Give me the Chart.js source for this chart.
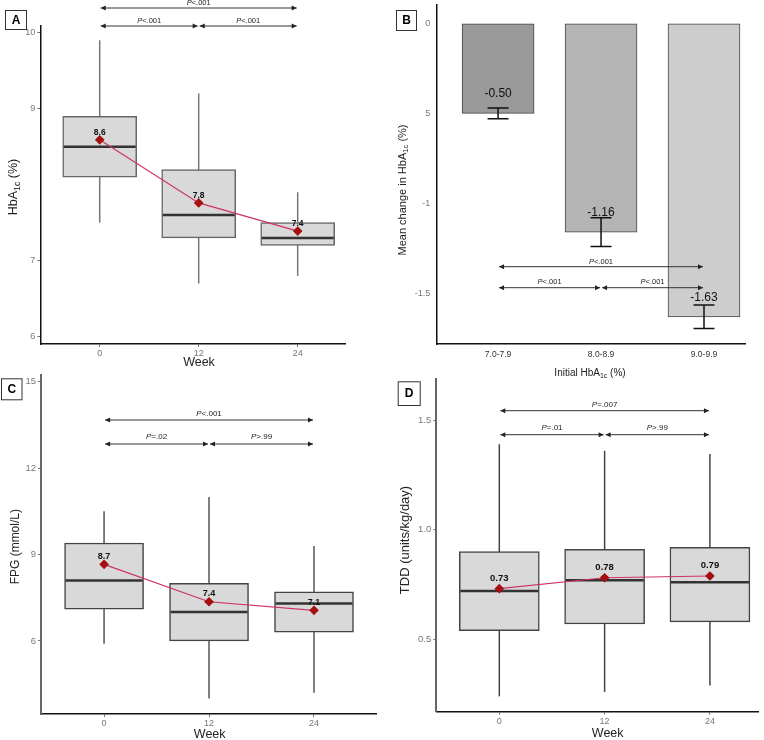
<!DOCTYPE html>
<html>
<head>
<meta charset="utf-8">
<script src="https://cdn.jsdelivr.net/npm/chart.js@4.4.1/dist/chart.umd.min.js"></script>
<style>
  body { margin: 0; background: #fff; width: 764px; height: 740px; position: relative; overflow: hidden; }
  canvas { position: absolute; }
</style>
</head>
<body>
<canvas id="chartA" width="382" height="370" style="left:0;top:0"></canvas>
<canvas id="chartB" width="382" height="390" style="left:382px;top:0"></canvas>
<canvas id="chartC" width="382" height="370" style="left:0;top:370px"></canvas>
<canvas id="chartD" width="382" height="370" style="left:382px;top:370px"></canvas>
<script>
// shared x values (weeks)
var weeks = [0, 12, 24];

// A: HbA1c (%) box plots
var hbaMin = [7.5, 6.7, 6.8];
var hbaQ1 = [8.1, 7.3, 7.2];
var hbaMedian = [8.5, 7.6, 7.3];
var hbaQ3 = [8.9, 8.2, 7.5];
var hbaMax = [9.9, 9.2, 7.9];
var hbaMean = [8.59, 7.76, 7.39];
var hbaTicks = [6, 7, 9, 10];

// B: mean change in HbA1c by initial HbA1c group
var hbaGroups = ['7.0-7.9', '8.0-8.9', '9.0-9.9'];
var hbaChange = [-0.50, -1.16, -1.63];
var hbaChangeErr = [0.03, 0.08, 0.065];
var changeTicks = [0, -0.5, -1, -1.5];
var changeTickText = ['0', '5', '-1', '-1.5'];

// C: FPG (mmol/L)
var fpgMin = [5.9, 4.0, 4.2];
var fpgQ1 = [7.1, 6.0, 6.3];
var fpgMedian = [8.1, 7.0, 7.3];
var fpgQ3 = [9.4, 8.0, 7.7];
var fpgMax = [10.5, 11.0, 9.3];
var fpgMean = [8.66, 7.36, 7.06];
var fpgTicks = [6, 9, 12, 15];

// D: TDD (units/kg/day)
var tddMin = [0.24, 0.26, 0.29];
var tddQ1 = [0.54, 0.57, 0.58];
var tddMedian = [0.72, 0.77, 0.76];
var tddQ3 = [0.90, 0.91, 0.92];
var tddMax = [1.39, 1.36, 1.345];
var tddMean = [0.731, 0.781, 0.789];
var tddTicks = [0.5, 1.0, 1.5];

var FONT = '"Liberation Sans", Arial, sans-serif';

function pText(ctx, rest, cx, cy, size) {
  ctx.font = 'italic ' + size + 'px ' + FONT;
  var w1 = ctx.measureText('P').width;
  ctx.font = size + 'px ' + FONT;
  var w2 = ctx.measureText(rest).width;
  var x0 = cx - (w1 + w2) / 2;
  ctx.textAlign = 'left';
  ctx.textBaseline = 'middle';
  ctx.font = 'italic ' + size + 'px ' + FONT;
  ctx.fillText('P', x0, cy);
  ctx.font = size + 'px ' + FONT;
  ctx.fillText(rest, x0 + w1, cy);
}

function arrowHead(ctx, x, y, dir) {
  ctx.beginPath();
  ctx.moveTo(x, y);
  ctx.lineTo(x - dir * 5, y - 2.5);
  ctx.lineTo(x - dir * 5, y + 2.5);
  ctx.closePath();
  ctx.fill();
}

function drawBrackets(chart, list, size) {
  var ctx = chart.ctx, xs = chart.scales.x;
  ctx.save();
  ctx.strokeStyle = '#333';
  ctx.fillStyle = '#222';
  ctx.lineWidth = 1;
  list.forEach(function(b) {
    var x1 = xs.getPixelForValue(b.from) + 1;
    var x2 = xs.getPixelForValue(b.to) - 1;
    ctx.beginPath();
    ctx.moveTo(x1, b.y);
    ctx.lineTo(x2, b.y);
    ctx.stroke();
    arrowHead(ctx, x1, b.y, -1);
    arrowHead(ctx, x2, b.y, 1);
    pText(ctx, b.text, (x1 + x2) / 2, b.ty, size);
  });
  ctx.restore();
}

function richText(ctx, parts, cx, cy, size, rotate, color) {
  ctx.save();
  ctx.translate(cx, cy);
  if (rotate) ctx.rotate(-Math.PI / 2);
  ctx.fillStyle = color;
  ctx.textBaseline = 'middle';
  ctx.textAlign = 'left';
  var widths = [], total = 0;
  parts.forEach(function(p) {
    ctx.font = (p.sub ? size * 0.7 : size) + 'px ' + FONT;
    var w = ctx.measureText(p.t).width;
    widths.push(w);
    total += w;
  });
  var x = -total / 2;
  parts.forEach(function(p, i) {
    ctx.font = (p.sub ? size * 0.7 : size) + 'px ' + FONT;
    ctx.fillText(p.t, x, p.sub ? size * 0.3 : 0);
    x += widths[i];
  });
  ctx.restore();
}

function panelLetter(ctx, letter, x, y, w, h) {
  ctx.save();
  ctx.fillStyle = '#fff';
  ctx.fillRect(x, y, w, h);
  ctx.strokeStyle = '#333';
  ctx.lineWidth = 1;
  ctx.strokeRect(x + 0.5, y + 0.5, w, h);
  ctx.fillStyle = '#000';
  ctx.font = 'bold 12px ' + FONT;
  ctx.textAlign = 'center';
  ctx.textBaseline = 'middle';
  ctx.fillText(letter, x + w / 2 + 0.5, y + h / 2 + 1);
  ctx.restore();
}

function fixedTicks(values) {
  return function(scale) {
    scale.ticks = values.map(function(v) { return { value: v }; });
  };
}

// fixed axis width, and no extra label padding pushing the plot area
function fixWidth(w) {
  return function(s) {
    s.width = w;
    s.paddingTop = 0;
    s.paddingBottom = 0;
  };
}

function fixHeight(h) {
  return function(s) {
    s.height = h;
    s.paddingLeft = 0;
    s.paddingRight = 0;
  };
}

// box plot panel (A, C, D)
function boxPanel(id, o) {
  var plugin = {
    id: 'box' + id,
    beforeDatasetsDraw: function(chart) {
      var ctx = chart.ctx, xs = chart.scales.x, ys = chart.scales.y;
      ctx.save();
      ctx.strokeStyle = o.whiskerColor;
      ctx.lineWidth = 1.5;
      for (var i = 0; i < weeks.length; i++) {
        var px = xs.getPixelForValue(weeks[i]);
        ctx.beginPath();
        ctx.moveTo(px, ys.getPixelForValue(o.max[i]));
        ctx.lineTo(px, ys.getPixelForValue(o.min[i]));
        ctx.stroke();
      }
      ctx.restore();
    },
    afterDatasetDraw: function(chart, args) {
      if (args.index !== 0) return;
      var ctx = chart.ctx, ys = chart.scales.y;
      var bars = chart.getDatasetMeta(0).data;
      ctx.save();
      ctx.strokeStyle = '#333';
      ctx.lineWidth = 2.5;
      for (var i = 0; i < bars.length; i++) {
        var py = ys.getPixelForValue(o.median[i]);
        ctx.beginPath();
        ctx.moveTo(bars[i].x - bars[i].width / 2 + 1, py);
        ctx.lineTo(bars[i].x + bars[i].width / 2 - 1, py);
        ctx.stroke();
      }
      ctx.restore();
    },
    afterDatasetsDraw: function(chart) {
      var ctx = chart.ctx, xs = chart.scales.x, ys = chart.scales.y;
      ctx.save();
      ctx.fillStyle = '#111';
      ctx.font = 'bold ' + o.meanSize + 'px ' + FONT;
      ctx.textAlign = 'center';
      ctx.textBaseline = 'middle';
      for (var i = 0; i < weeks.length; i++) {
        ctx.fillText(o.mean[i].toFixed(o.digits), xs.getPixelForValue(weeks[i]), ys.getPixelForValue(o.mean[i]) - o.labelGap);
      }
      ctx.restore();
      drawBrackets(chart, o.brackets, o.pSize);
    },
    afterDraw: function(chart) {
      var ctx = chart.ctx;
      richText(ctx, o.yTitle, o.yTitlePos[0], o.yTitlePos[1], o.yTitleSize, true, '#222');
      richText(ctx, [{ t: 'Week' }], o.xTitlePos[0], o.xTitlePos[1], 12.5, false, '#222');
      panelLetter(ctx, o.letter, o.letterBox[0], o.letterBox[1], o.letterBox[2], o.letterBox[3]);
    }
  };

  return new Chart(document.getElementById(id), {
    type: 'bar',
    data: {
      datasets: [{
        type: 'bar',
        data: weeks.map(function(w, i) { return { x: w, y: [o.q1[i], o.q3[i]] }; }),
        backgroundColor: '#d9d9d9',
        borderColor: o.boxColor,
        borderWidth: 1.5,
        borderSkipped: false,
        barThickness: o.boxWidth,
        grouped: false,
        order: 2
      }, {
        type: 'line',
        data: weeks.map(function(w, i) { return { x: w, y: o.mean[i] }; }),
        borderColor: '#cc3366',
        borderWidth: 1.2,
        pointStyle: 'rectRot',
        pointRadius: 4,
        pointBackgroundColor: '#a50f0f',
        pointBorderColor: '#a50f0f',
        order: 1
      }]
    },
    options: {
      responsive: false,
      animation: false,
      devicePixelRatio: 1,
      layout: { padding: { top: o.padTop, right: o.padRight, left: 0, bottom: 0 } },
      plugins: { legend: { display: false }, tooltip: { enabled: false } },
      scales: {
        x: {
          type: 'linear',
          min: o.xMin, max: o.xMax,
          offset: false,
          afterBuildTicks: fixedTicks(weeks),
          afterFit: fixHeight(o.xAxisHeight),
          ticks: { color: '#777', font: { size: 9, family: FONT }, padding: 1 },
          grid: { drawOnChartArea: false, drawTicks: true, tickLength: 3, color: '#777', offset: false },
          border: { color: '#111', width: 1.5 }
        },
        y: {
          type: 'linear',
          min: o.yMin, max: o.yMax,
          afterBuildTicks: fixedTicks(o.ticks),
          afterFit: fixWidth(o.yAxisWidth),
          ticks: {
            color: '#777', font: { size: o.tickSize, family: FONT }, padding: 2,
            callback: function(v) { return o.tickText(v); }
          },
          grid: { drawOnChartArea: false, drawTicks: true, tickLength: 3, color: '#777' },
          border: { color: o.yAxisColor, width: o.yAxisLineWidth }
        }
      }
    },
    plugins: [plugin]
  });
}

boxPanel('chartA', {
  min: hbaMin, q1: hbaQ1, median: hbaMedian, q3: hbaQ3, max: hbaMax, mean: hbaMean,
  ticks: hbaTicks, tickText: function(v) { return String(v); }, tickSize: 9,
  digits: 1, meanSize: 8.5, labelGap: 7,
  xMin: -7.2, xMax: 29.82, yMin: 5.904, yMax: 10.088,
  padTop: 26, padRight: 36.3, xAxisHeight: 26, yAxisWidth: 40.3,
  boxWidth: 74, boxColor: '#666', whiskerColor: '#777',
  yAxisColor: '#111', yAxisLineWidth: 1.5,
  yTitle: [{ t: 'HbA' }, { t: '1c', sub: true }, { t: ' (%)' }], yTitleSize: 12.5, yTitlePos: [14, 187],
  xTitlePos: [199, 363],
  letter: 'A', letterBox: [5, 10, 21, 19],
  pSize: 7.5,
  brackets: [
    { from: 0, to: 24, y: 8, ty: 2.5, text: '<.001' },
    { from: 0, to: 12, y: 26, ty: 20.5, text: '<.001' },
    { from: 12, to: 24, y: 26, ty: 20.5, text: '<.001' }
  ]
});

boxPanel('chartC', {
  min: fpgMin, q1: fpgQ1, median: fpgMedian, q3: fpgQ3, max: fpgMax, mean: fpgMean,
  ticks: fpgTicks, tickText: function(v) { return String(v); }, tickSize: 9.5,
  digits: 1, meanSize: 9, labelGap: 8,
  xMin: -7.21, xMax: 31.18, yMin: 3.46, yMax: 15.23,
  padTop: 5, padRight: 4, xAxisHeight: 26, yAxisWidth: 41,
  boxWidth: 79, boxColor: '#444', whiskerColor: '#555',
  yAxisColor: '#666', yAxisLineWidth: 2,
  yTitle: [{ t: 'FPG (mmol/L)' }], yTitleSize: 12, yTitlePos: [16, 176.7],
  xTitlePos: [209.7, 365],
  letter: 'C', letterBox: [1, 8.3, 20.5, 21],
  pSize: 8,
  brackets: [
    { from: 0, to: 24, y: 50, ty: 43.7, text: '<.001' },
    { from: 0, to: 12, y: 74, ty: 67, text: '=.02' },
    { from: 12, to: 24, y: 74, ty: 67, text: '>.99' }
  ]
});

boxPanel('chartD', {
  min: tddMin, q1: tddQ1, median: tddMedian, q3: tddQ3, max: tddMax, mean: tddMean,
  ticks: tddTicks, tickText: function(v) { return v.toFixed(1); }, tickSize: 9.5,
  digits: 2, meanSize: 9.5, labelGap: 10.5,
  xMin: -7.18, xMax: 29.57, yMin: 0.170, yMax: 1.686,
  padTop: 9.3, padRight: 0, xAxisHeight: 28.3, yAxisWidth: 54.3,
  boxWidth: 80, boxColor: '#444', whiskerColor: '#444',
  yAxisColor: '#666', yAxisLineWidth: 2,
  yTitle: [{ t: 'TDD (units/kg/day)' }], yTitleSize: 13, yTitlePos: [23.3, 170],
  xTitlePos: [225.7, 363.3],
  letter: 'D', letterBox: [15.7, 11.3, 22, 23.7],
  pSize: 8,
  brackets: [
    { from: 0, to: 24, y: 40.7, ty: 34.7, text: '=.007' },
    { from: 0, to: 12, y: 64.7, ty: 58, text: '=.01' },
    { from: 12, to: 24, y: 64.7, ty: 58, text: '>.99' }
  ]
});

// B: bar chart with error bars
var groupIdx = hbaGroups.map(function(g, i) { return i; });
var changePlugin = {
  id: 'changeBars',
  afterDatasetsDraw: function(chart) {
    var ctx = chart.ctx, xs = chart.scales.x, ys = chart.scales.y;
    ctx.save();
    ctx.strokeStyle = '#111';
    ctx.lineWidth = 1.5;
    for (var i = 0; i < hbaChange.length; i++) {
      var px = xs.getPixelForValue(i);
      var top = ys.getPixelForValue(hbaChange[i] + hbaChangeErr[i]);
      var bot = ys.getPixelForValue(hbaChange[i] - hbaChangeErr[i]);
      ctx.beginPath();
      ctx.moveTo(px, top); ctx.lineTo(px, bot);
      ctx.moveTo(px - 10.5, top); ctx.lineTo(px + 10.5, top);
      ctx.moveTo(px - 10.5, bot); ctx.lineTo(px + 10.5, bot);
      ctx.stroke();
    }
    ctx.fillStyle = '#111';
    ctx.font = '12px ' + FONT;
    ctx.textAlign = 'center';
    ctx.textBaseline = 'middle';
    for (var j = 0; j < hbaChange.length; j++) {
      ctx.fillText(hbaChange[j].toFixed(2), xs.getPixelForValue(j), ys.getPixelForValue(hbaChange[j]) - 19.5);
    }
    ctx.restore();
    drawBrackets(chart, [
      { from: 0, to: 2, y: 266.7, ty: 261.5, text: '<.001' },
      { from: 0, to: 1, y: 287.7, ty: 282, text: '<.001' },
      { from: 1, to: 2, y: 287.7, ty: 282, text: '<.001' }
    ], 7.5);
  },
  afterDraw: function(chart) {
    var ctx = chart.ctx;
    richText(ctx, [{ t: 'Mean change in HbA' }, { t: '1c', sub: true }, { t: ' (%)' }], 21, 190, 11, true, '#222');
    richText(ctx, [{ t: 'Initial HbA' }, { t: '1c', sub: true }, { t: ' (%)' }], 208, 373, 10, false, '#222');
    panelLetter(ctx, 'B', 14, 10, 20, 20);
  }
};

new Chart(document.getElementById('chartB'), {
  type: 'bar',
  data: {
    datasets: [{
      data: hbaChange.map(function(v, i) { return { x: i, y: v }; }),
      backgroundColor: ['#9a9a9a', '#b4b4b4', '#cdcdcd'],
      borderColor: '#444',
      borderWidth: 1,
      borderSkipped: false,
      barThickness: 72
    }]
  },
  options: {
    responsive: false,
    animation: false,
    devicePixelRatio: 1,
    layout: { padding: { top: 5, right: 18.3, left: 0, bottom: 0 } },
    plugins: { legend: { display: false }, tooltip: { enabled: false } },
    scales: {
      x: {
        type: 'linear',
        min: -0.6, max: 2.405,
        offset: false,
        afterBuildTicks: fixedTicks(groupIdx),
        afterFit: fixHeight(46),
        ticks: {
          color: '#333', font: { size: 8.5, family: FONT }, padding: 6,
          callback: function(v) { return hbaGroups[v]; }
        },
        grid: { drawOnChartArea: false, drawTicks: false, offset: false },
        border: { color: '#111', width: 1.5 }
      },
      y: {
        type: 'linear',
        min: -1.781, max: 0.102,
        afterBuildTicks: fixedTicks(changeTicks),
        afterFit: fixWidth(54.3),
        ticks: {
          color: '#777', font: { size: 9, family: FONT }, padding: 6,
          callback: function(v) { return changeTickText[changeTicks.indexOf(v)]; }
        },
        grid: { drawOnChartArea: false, drawTicks: false },
        border: { color: '#111', width: 1.5 }
      }
    }
  },
  plugins: [changePlugin]
});
</script>
</body>
</html>
